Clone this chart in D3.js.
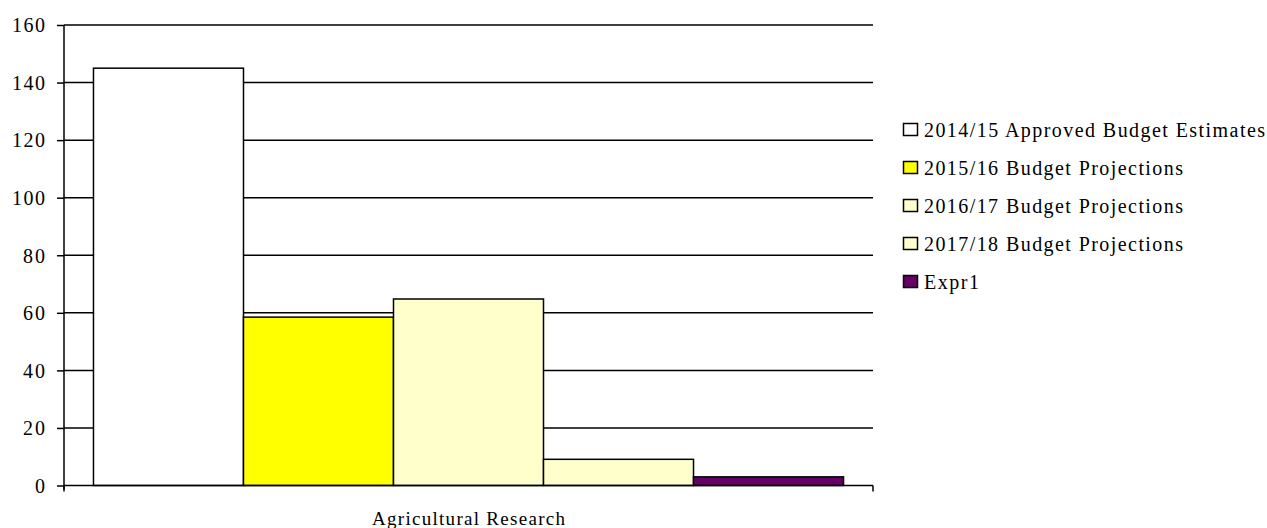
<!DOCTYPE html>
<html><head><meta charset="utf-8">
<script src="https://cdn.jsdelivr.net/npm/d3@7"></script>
<style>body{margin:0;background:#fff}text{font-family:"Liberation Serif","Times New Roman",serif;fill:#000}</style>
</head><body><svg id="c" width="1267" height="528"></svg>
<script>
const categories = ["Agricultural Research"];
const seriesNames = ["2014/15 Approved Budget Estimates","2015/16 Budget Projections","2016/17 Budget Projections","2017/18 Budget Projections","Expr1"];
const seriesValues = [145, 58.5, 64.8, 9.1, 3.0];
const seriesColors = ["#FFFFFF","#FFFF00","#FFFFCC","#FFFFCC","#660066"];
const yTicks = [0,20,40,60,80,100,120,140,160];

const svg = d3.select("#c");
const L = 64, R = 873, T = 25, B = 485.5;
const y = d3.scaleLinear().domain([0,160]).range([B,T]);
const x0 = d3.scaleBand().domain(categories).range([L,R]).paddingInner(0).paddingOuter(0.0393);
const x1 = d3.scaleBand().domain(seriesNames).range([0,x0.bandwidth()]);

// gridlines
svg.append("g").selectAll("line").data(yTicks.filter(d=>d>0)).join("line")
  .attr("x1",L).attr("x2",R).attr("y1",d=>y(d)).attr("y2",d=>y(d))
  .attr("stroke","#000").attr("stroke-width",1.5);

// bars
const g = svg.append("g");
categories.forEach(c=>{
  g.selectAll("rect").data(seriesNames.map((s,i)=>({s,v:seriesValues[i],c:seriesColors[i]}))).join("rect")
    .attr("x",d=>x0(c)+x1(d.s)).attr("width",x1.bandwidth())
    .attr("y",d=>y(d.v)).attr("height",d=>B-y(d.v))
    .attr("fill",d=>d.c).attr("stroke","#000").attr("stroke-width",1.5);
});

// y axis
const ya = svg.append("g").attr("transform",`translate(${L},0)`)
  .call(d3.axisLeft(y).tickValues(yTicks).tickSize(7).tickPadding(12));
ya.select(".domain").attr("stroke","#000").attr("stroke-width",1.5).attr("d",`M0,${T}V${B+4}`);
ya.selectAll(".tick line").attr("stroke","#000").attr("stroke-width",1.5);
ya.selectAll("text").style("font-size","20px").style("font-family","Liberation Serif").attr("fill","#000")
  .attr("dy","0.34em").attr("textLength",d=>String(d).length*11).attr("lengthAdjust","spacing");

// x axis
const xa = svg.append("g").attr("transform",`translate(0,${B})`);
xa.append("line").attr("x1",L).attr("x2",R).attr("stroke","#000").attr("stroke-width",1.5);
[L,R].forEach(p=>xa.append("line").attr("x1",p).attr("x2",p).attr("y1",0).attr("y2",6).attr("stroke","#000").attr("stroke-width",1.5));
xa.selectAll("text.cat").data(categories).join("text").attr("class","cat")
  .attr("x",d=>x0(d)+x0.bandwidth()/2).attr("y",39.5).attr("text-anchor","middle")
  .style("font-size","19px").attr("textLength",193).attr("lengthAdjust","spacing").text(d=>d);

// legend
const lg = svg.append("g").attr("transform","translate(903,0)");
const legY = [137,175,213,251,289];
const legW = [341,259,259,259,55];
seriesNames.forEach((s,i)=>{
  lg.append("rect").attr("x",0.5).attr("y",legY[i]-13.5).attr("width",14).attr("height",12)
    .attr("fill",seriesColors[i]).attr("stroke","#000").attr("stroke-width",1.5);
  lg.append("text").attr("x",21).attr("y",legY[i]).style("font-size","20px")
    .attr("textLength",legW[i]).attr("lengthAdjust","spacing").text(s);
});
</script></body></html>
